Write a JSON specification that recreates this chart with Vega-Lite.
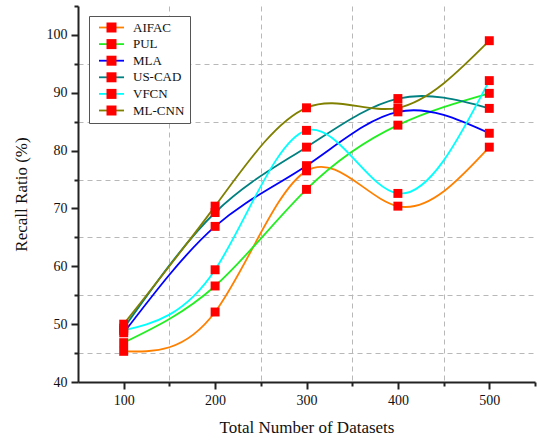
{
  "$schema": "https://vega.github.io/schema/vega-lite/v6.json",
  "width": 457,
  "height": 376,
  "autosize": {"type": "none"},
  "padding": {"left": 78, "top": 6, "right": 3, "bottom": 62},
  "background": "white",
  "config": {
    "view": {"stroke": null},
    "font": "Liberation Serif"
  },
  "data": {
    "values": [
      {"n": 100, "series": "AIFAC", "recall": 45.3},
      {"n": 200, "series": "AIFAC", "recall": 52.1},
      {"n": 300, "series": "AIFAC", "recall": 76.5},
      {"n": 400, "series": "AIFAC", "recall": 70.4},
      {"n": 500, "series": "AIFAC", "recall": 80.6},
      {"n": 100, "series": "PUL", "recall": 46.8},
      {"n": 200, "series": "PUL", "recall": 56.6},
      {"n": 300, "series": "PUL", "recall": 73.3},
      {"n": 400, "series": "PUL", "recall": 84.4},
      {"n": 500, "series": "PUL", "recall": 89.9},
      {"n": 100, "series": "MLA", "recall": 48.5},
      {"n": 200, "series": "MLA", "recall": 66.9},
      {"n": 300, "series": "MLA", "recall": 77.4},
      {"n": 400, "series": "MLA", "recall": 86.7},
      {"n": 500, "series": "MLA", "recall": 83.0},
      {"n": 100, "series": "US-CAD", "recall": 49.3},
      {"n": 200, "series": "US-CAD", "recall": 69.3},
      {"n": 300, "series": "US-CAD", "recall": 80.6},
      {"n": 400, "series": "US-CAD", "recall": 89.0},
      {"n": 500, "series": "US-CAD", "recall": 87.3},
      {"n": 100, "series": "VFCN", "recall": 48.9},
      {"n": 200, "series": "VFCN", "recall": 59.4},
      {"n": 300, "series": "VFCN", "recall": 83.5},
      {"n": 400, "series": "VFCN", "recall": 72.6},
      {"n": 500, "series": "VFCN", "recall": 92.1},
      {"n": 100, "series": "ML-CNN", "recall": 50.0},
      {"n": 200, "series": "ML-CNN", "recall": 70.4},
      {"n": 300, "series": "ML-CNN", "recall": 87.4},
      {"n": 400, "series": "ML-CNN", "recall": 87.4},
      {"n": 500, "series": "ML-CNN", "recall": 99.0}
    ]
  },
  "encoding": {
    "x": {
      "field": "n",
      "type": "quantitative",
      "scale": {"domain": [50, 550], "nice": false, "zero": false},
      "axis": {
        "title": "Total Number of Datasets",
        "titleFont": "Liberation Serif",
        "titleFontSize": 17,
        "titleFontWeight": "normal",
        "titleColor": "#111",
        "titlePadding": 12,
        "values": [100, 150, 200, 250, 300, 350, 400, 450, 500, 550],
        "labelExpr": "datum.value % 100 === 0 ? datum.label : ''",
        "labelFont": "Liberation Serif",
        "labelFontSize": 14,
        "labelColor": "#111",
        "labelPadding": 4,
        "labelOverlap": false,
        "domainColor": "#222",
        "domainWidth": 2,
        "tickColor": "#222",
        "tickWidth": 2,
        "tickSize": {"condition": {"test": "datum.value % 100 === 0", "value": 7}, "value": 4},
        "grid": true,
        "gridColor": "#b8b8b8",
        "gridDash": [5, 4],
        "gridWidth": 1,
        "gridOpacity": {"condition": {"test": "datum.value % 100 !== 0 && datum.value < 550", "value": 1}, "value": 0}
      }
    },
    "y": {
      "field": "recall",
      "type": "quantitative",
      "scale": {"domain": [40, 105], "nice": false, "zero": false},
      "axis": {
        "title": "Recall Ratio (%)",
        "titleFont": "Liberation Serif",
        "titleFontSize": 17,
        "titleFontWeight": "normal",
        "titleColor": "#111",
        "titlePadding": 16,
        "values": [40, 45, 50, 55, 60, 65, 70, 75, 80, 85, 90, 95, 100, 105],
        "labelExpr": "datum.value % 10 === 0 ? datum.label : ''",
        "labelFont": "Liberation Serif",
        "labelFontSize": 14,
        "labelColor": "#111",
        "labelPadding": 4,
        "labelOverlap": false,
        "domainColor": "#222",
        "domainWidth": 2,
        "tickColor": "#222",
        "tickWidth": 2,
        "tickSize": {"condition": {"test": "datum.value % 10 === 0", "value": 7}, "value": 4},
        "grid": true,
        "gridColor": "#b8b8b8",
        "gridDash": [5, 4],
        "gridWidth": 1,
        "gridOpacity": {"condition": {"test": "datum.value % 10 !== 0 && datum.value < 105", "value": 1}, "value": 0}
      }
    }
  },
  "layer": [
    {
      "mark": {"type": "line", "interpolate": "natural", "strokeWidth": 1.8},
      "encoding": {
        "color": {
          "field": "series",
          "type": "nominal",
          "sort": ["AIFAC", "PUL", "MLA", "US-CAD", "VFCN", "ML-CNN"],
          "scale": {
            "domain": ["AIFAC", "PUL", "MLA", "US-CAD", "VFCN", "ML-CNN"],
            "range": ["#ff8000", "#22ee22", "#0000ff", "#008080", "#00ffff", "#808000"]
          },
          "legend": {
            "title": null,
            "orient": "none",
            "legendX": 11,
            "legendY": 10,
            "symbolType": "M-2.5,0H2.5",
            "symbolSize": 100,
            "symbolStrokeWidth": 1.8,
            "symbolOffset": 11,
            "labelOffset": 15,
            "labelFont": "Liberation Serif",
            "labelFontSize": 13,
            "labelColor": "#111",
            "rowPadding": 2.6,
            "padding": 5,
            "strokeColor": "#555",
            "fillColor": "white"
          }
        }
      }
    },
    {
      "mark": {"type": "point", "filled": true, "color": "#ff0000", "opacity": 1, "size": 80},
      "encoding": {
        "shape": {
          "field": "series",
          "type": "nominal",
          "sort": ["AIFAC", "PUL", "MLA", "US-CAD", "VFCN", "ML-CNN"],
          "scale": {
            "range": ["square", "square", "square", "square", "square", "square"]
          },
          "legend": {
            "title": null,
            "orient": "none",
            "legendX": 11,
            "legendY": 10,
            "symbolSize": 100,
            "symbolFillColor": "#ff0000",
            "symbolStrokeWidth": 0,
            "symbolOpacity": 1,
            "symbolOffset": 11,
            "labelOffset": 15,
            "labelFont": "Liberation Serif",
            "labelFontSize": 13,
            "labelOpacity": 0,
            "rowPadding": 2.6,
            "padding": 5
          }
        }
      }
    }
  ]
}
